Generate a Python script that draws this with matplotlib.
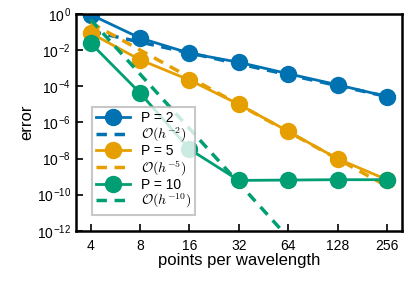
import matplotlib
matplotlib.use('Agg')
import matplotlib.pyplot as plt
import numpy as np

plt.rcParams['font.family'] = ['Liberation Sans', 'DejaVu Sans']
plt.rcParams['mathtext.fontset'] = 'cm'

# points per wavelength
ppw = [4, 8, 16, 32, 64, 128, 256]

# measured errors
err_p2 = [0.9, 4.6e-2, 6.7e-3, 2.1e-3, 4.9e-4, 1.2e-4, 2.7e-5]
err_p5 = [8.5e-2, 2.9e-3, 2.2e-4, 1.0e-5, 3.2e-7, 9.8e-9, 6.8e-10]
err_p10 = [2.4e-2, 4.2e-5, 3.3e-8, 6.2e-10, 6.5e-10, 6.8e-10, 6.8e-10]

# reference slopes: C * h^-order
orders = [2, 5, 10]
consts = [1.77, 327.0, 5.0e5]

labels = ['P = 2', 'P = 5', 'P = 10']
colors = ['#0072B2', '#E69F00', '#009E73']

yticks = [1e0, 1e-2, 1e-4, 1e-6, 1e-8, 1e-10, 1e-12]
ytick_labels = ['10$^{\\mathregular{0}}$', '10$^{\\mathregular{-2}}$', '10$^{\\mathregular{-4}}$',
                '10$^{\\mathregular{-6}}$', '10$^{\\mathregular{-8}}$', '10$^{\\mathregular{-10}}$',
                '10$^{\\mathregular{-12}}$']

fig = plt.figure(figsize=(4.15, 2.83), dpi=100)
ax = fig.add_axes([0.183, 0.184, 0.786, 0.767])

x = np.array(ppw, dtype=float)
for err, k, c, lab, col in zip([err_p2, err_p5, err_p10], orders, consts, labels, colors):
    ax.plot(x, err, '-o', color=col, lw=2, markersize=11.5, label=lab)
    ax.plot(x, c * x**(-k), '--', color=col, lw=2.5, dashes=(3, 2.2),
            label=r'$\mathcal{O}(h^{-%d})$' % k)

ax.set_xscale('log', base=2)
ax.set_yscale('log')
ax.set_xlim(3.25, 317)
ax.set_ylim(1e-12, 1e0)
ax.set_xticks(ppw)
ax.set_xticklabels([str(p) for p in ppw])
ax.xaxis.set_minor_locator(matplotlib.ticker.NullLocator())
ax.set_yticks(yticks)
ax.set_yticklabels(ytick_labels)
ax.yaxis.set_minor_locator(matplotlib.ticker.NullLocator())
ax.tick_params(direction='in', length=5, width=1.2, labelsize=10)
ax.tick_params(axis='x', pad=6)
for s in ax.spines.values():
    s.set_linewidth(1.8)

ax.set_xlabel('points per wavelength', fontsize=12, labelpad=0)
ax.set_ylabel('error', fontsize=12, labelpad=2)

leg = ax.legend(loc='lower left', bbox_to_anchor=(0.05, 0.075), borderaxespad=0,
                fancybox=False, edgecolor='#bbbbbb', framealpha=0.8, fontsize=10,
                handlelength=2.4, labelspacing=0.02, borderpad=0.3, handletextpad=0.8)
leg.get_frame().set_linewidth(1.5)

fig.savefig('out.png', dpi=100)
